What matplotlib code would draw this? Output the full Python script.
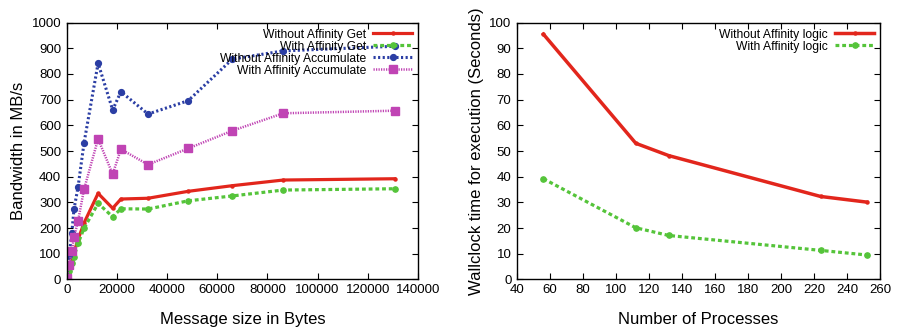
import matplotlib
matplotlib.use("Agg")
import matplotlib.pyplot as plt

plt.rcParams['font.family'] = ['Liberation Sans', 'DejaVu Sans']

# Left chart data
msg_sizes = [0, 1000, 2000, 2900, 4500, 6900, 12500, 18300, 21600, 32400, 48400, 66000, 86300, 130700]
wo_get = [3, 38, 72, 105, 155, 220, 335, 277, 313, 316, 343, 365, 387, 392]
w_get = [3, 32, 62, 88, 140, 199, 296, 244, 275, 274, 306, 325, 348, 353]
wo_acc = [5, 95, 179, 274, 359, 532, 842, 660, 731, 644, 696, 858, 890, 908]
w_acc = [5, 56, 110, 164, 227, 351, 547, 410, 507, 447, 510, 579, 647, 657]

# Right chart data
procs = [56, 112, 132, 224, 252]
wo_logic = [95.5, 53, 48.2, 32.3, 30.1]
w_logic = [39.2, 20.1, 17.1, 11.3, 9.5]

RED = '#e2261c'
GREEN = '#55c43a'
BLUE = '#2b3ea4'
MAG = '#c044b4'

fig = plt.figure(figsize=(8.97, 3.33), dpi=100)
ax1 = fig.add_axes([0.0744, 0.161, 0.466 - 0.0744, 0.932 - 0.161])
ax2 = fig.add_axes([0.5764, 0.161, 0.981 - 0.5764, 0.932 - 0.161])

ax1.plot(msg_sizes, wo_get, color=RED, lw=2.3, ls='-', marker='o', ms=2.2, label='Without Affinity Get')
ax1.plot(msg_sizes, w_get, color=GREEN, lw=2.3, ls=(0, (1.2, 0.9)), marker='o', ms=3.8, label='With Affinity Get')
ax1.plot(msg_sizes, wo_acc, color=BLUE, lw=2.2, ls=(0, (0.7, 0.8)), marker='o', ms=4.2, label='Without Affinity Accumulate')
ax1.plot(msg_sizes, w_acc, color=MAG, lw=1.8, ls=(0, (0.5, 0.5)), marker='s', ms=5.5, label='With Affinity Accumulate')

ax1.set_xlim(0, 140000)
ax1.set_ylim(0, 1000)
ax1.set_xticks(range(0, 140001, 20000))
ax1.set_yticks(range(0, 1001, 100))
ax1.set_xlabel('Message size in Bytes', fontsize=12, labelpad=12)
ax1.set_ylabel('Bandwidth in MB/s', fontsize=12, labelpad=4)

ax2.plot(procs, wo_logic, color=RED, lw=2.5, ls='-', marker='o', ms=2.2, label='Without Affinity logic')
ax2.plot(procs, w_logic, color=GREEN, lw=2.3, ls=(0, (1.2, 0.9)), marker='o', ms=3.8, label='With Affinity logic')
ax2.set_xlim(40, 260)
ax2.set_ylim(0, 100)
ax2.set_xticks(range(40, 261, 20))
ax2.set_yticks(range(0, 101, 10))
ax2.set_xlabel('Number of Processes', fontsize=12, labelpad=12)
ax2.set_ylabel('Wallclock time for execution (Seconds)', fontsize=12, labelpad=4)

for ax in (ax1, ax2):
    ax.tick_params(direction='in', top=True, right=True, length=4, width=0.8, labelsize=9.5, pad=3)
    ax.tick_params(axis='y', pad=4)
    for s in ax.spines.values():
        s.set_linewidth(1.0)
    leg = ax.legend(loc='upper right', frameon=False, markerfirst=False, fontsize=8.7,
                    handlelength=3.2, labelspacing=0.0, borderaxespad=0.3, handletextpad=0.6,
                    borderpad=0.2)
    for t in leg.get_texts():
        t.set_ha('right')
    leg._legend_box.align = 'right'

fig.savefig('out.png', dpi=100)
